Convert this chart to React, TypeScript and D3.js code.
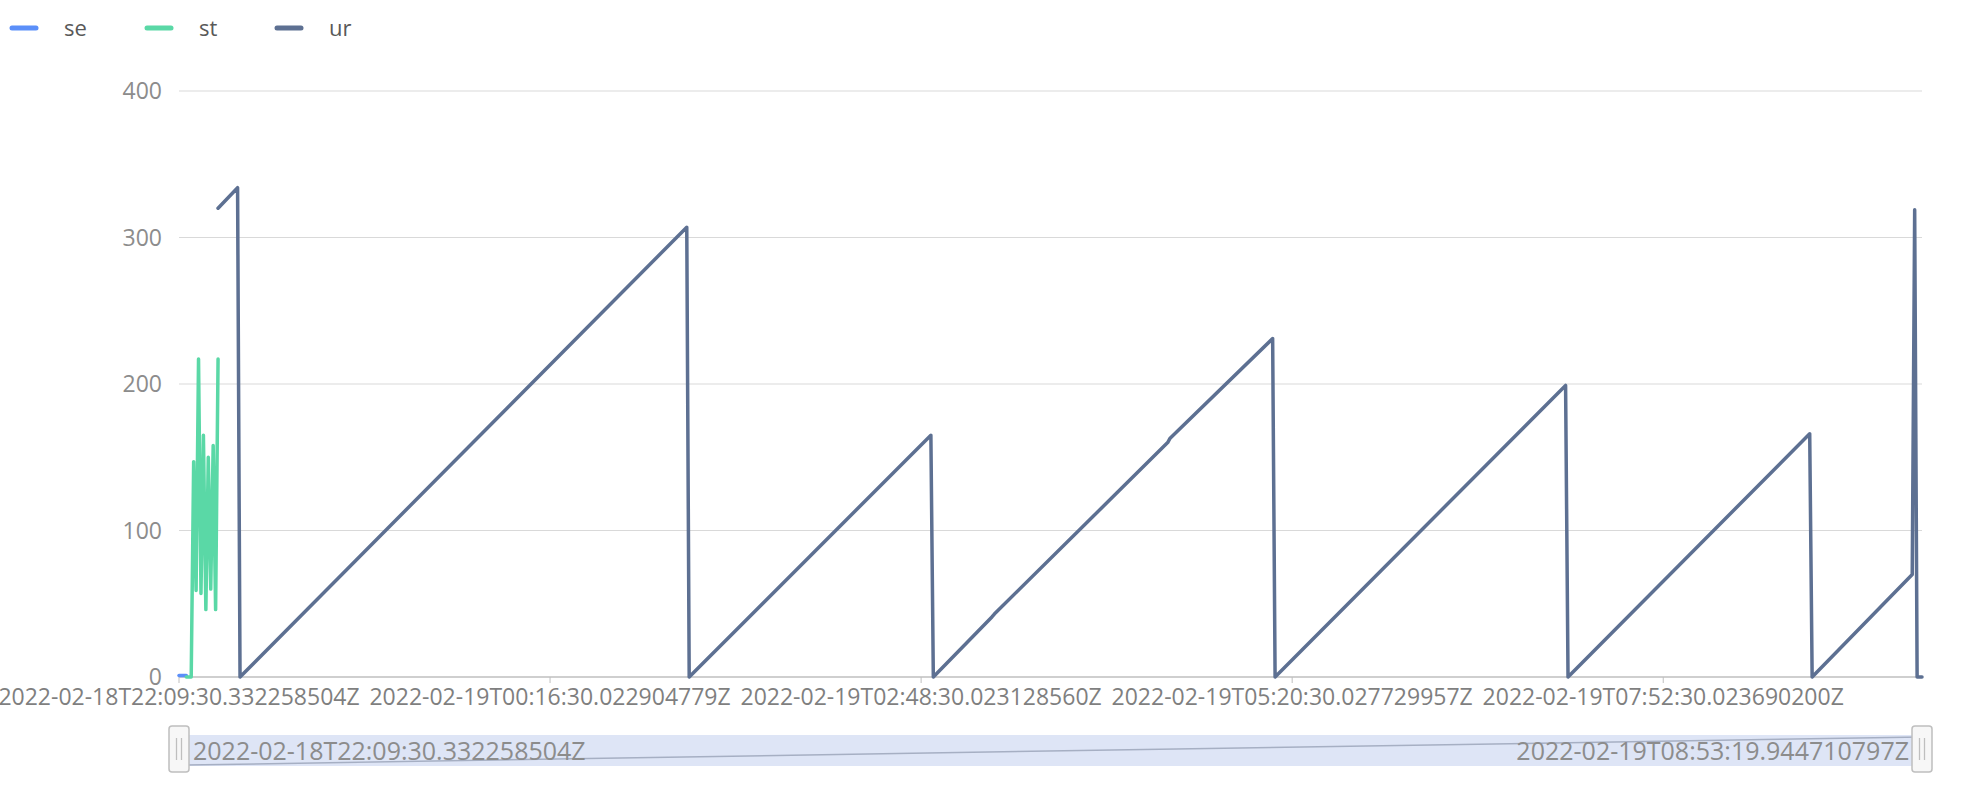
import React from "react";
import * as d3 from "d3";

// ---------- data ----------
const categoryCount = 715;
const tickIndices = [0, 152, 304, 456, 608];
const tickLabels = [
  "2022-02-18T22:09:30.332258504Z",
  "2022-02-19T00:16:30.022904779Z",
  "2022-02-19T02:48:30.023128560Z",
  "2022-02-19T05:20:30.027729957Z",
  "2022-02-19T07:52:30.023690200Z",
];
const sliderStartLabel = "2022-02-18T22:09:30.332258504Z";
const sliderEndLabel = "2022-02-19T08:53:19.944710797Z";
const yTicks = [0, 100, 200, 300, 400];

const seriesNames = ["se", "st", "ur"];
const seriesColors = ["#5B8FF9", "#5AD8A6", "#5D7092"];

const seIdx = [0, 1, 2, 3];
const seVal = [1, 1, 1, 1];

const stIdx = [3, 4, 5, 6, 7, 8, 9, 10, 11, 12, 13, 14, 15, 16];
const stVal = [0, 0, 0, 147, 59, 217, 57, 165, 46, 150, 60, 158, 46, 217];

const urIdx = [16, 24, 25, 208, 209, 308, 309, 333, 334, 405, 406, 448, 449, 568, 569, 668, 669, 710, 711, 712, 714];
const urVal = [320, 334, 0, 307, 0, 165, 0, 41, 43, 160, 163, 231, 0, 199, 0, 166, 0, 70, 319, 0, 0];

// slider trend (normalized shadow values, start/end)
const trendIdx = [3, 714];
const trendVal = [0, 1];

export default function App() {
  const W = 1980, H = 800;
  const left = 179, right = 1922, top = 91, bottom = 677;
  const x = d3.scaleLinear().domain([0, categoryCount - 1]).range([left, right]);
  const y = d3.scaleLinear().domain([0, 400]).range([bottom, top]);
  const font = "'Open Sans', 'Noto Sans', sans-serif";

  const line = d3
    .line<[number, number]>()
    .x((d) => x(d[0]))
    .y((d) => y(d[1]));

  const zip = (a: number[], b: number[]) => a.map((v, i) => [v, b[i]] as [number, number]);
  const series = [zip(seIdx, seVal), zip(stIdx, stVal), zip(urIdx, urVal)];

  // slider
  const sTop = 735, sBot = 766;
  const ys = d3.scaleLinear().domain([0, 1]).range([sBot - 1, sTop + 2]);
  const trendLine = d3
    .line<[number, number]>()
    .x((d) => x(d[0]))
    .y((d) => ys(d[1]));

  const legendX = [10, 145, 275];

  return (
    <svg
      width={W}
      height={H}
      style={{ position: "absolute", left: 0, top: 0, background: "#fff" }}
      fontFamily={font}
    >
      {/* legend */}
      {seriesNames.map((n, i) => (
        <g key={n}>
          <line
            x1={legendX[i] + 2}
            x2={legendX[i] + 26}
            y1={28}
            y2={28}
            stroke={seriesColors[i]}
            strokeWidth={5}
            strokeLinecap="round"
          />
          <text x={legendX[i] + 54} y={28} dy="0.35em" fontSize={22} fill="#595959">
            {n}
          </text>
        </g>
      ))}

      {/* grid + y labels */}
      {yTicks.map((t) => (
        <g key={t}>
          {t !== 0 && (
            <line x1={left} x2={right} y1={y(t)} y2={y(t)} stroke="#D9D9D9" strokeWidth={1} />
          )}
          <text x={162} y={y(t)} dy="0.35em" textAnchor="end" fontSize={23} fill="#8C8C8C">
            {t}
          </text>
        </g>
      ))}

      {/* x axis */}
      <line x1={left} x2={right} y1={bottom} y2={bottom} stroke="#BFBFBF" strokeWidth={1.5} />
      {tickIndices.map((ti, i) => (
        <g key={ti}>
          <line x1={x(ti)} x2={x(ti)} y1={bottom} y2={bottom + 6} stroke="#BFBFBF" strokeWidth={1} />
          <text x={x(ti)} y={705} textAnchor="middle" fontSize={23} fill="#7F7F7F">
            {tickLabels[i]}
          </text>
        </g>
      ))}

      {/* series */}
      {series.map((s, i) => (
        <path
          key={i}
          d={line(s) || ""}
          fill="none"
          stroke={seriesColors[i]}
          strokeWidth={3.5}
          strokeLinejoin="round"
          strokeLinecap="round"
        />
      ))}

      {/* slider */}
      <rect x={left} y={sTop} width={right - left} height={sBot - sTop} fill="#DEE5F6" />
      <path
        d={trendLine(zip(trendIdx, trendVal)) || ""}
        fill="none"
        stroke="#A6AFC3"
        strokeWidth={1.5}
      />
      <text x={193} y={sTop + (sBot - sTop) / 2 + 1} dy="0.35em" fontSize={25} fill="#8C8C8C">
        {sliderStartLabel}
      </text>
      <text
        x={1909}
        y={sTop + (sBot - sTop) / 2 + 1}
        dy="0.35em"
        textAnchor="end"
        fontSize={25}
        fill="#8C8C8C"
      >
        {sliderEndLabel}
      </text>
      {[left, right].map((hx, i) => (
        <g key={i}>
          <rect
            x={hx - 10}
            y={726}
            width={20}
            height={46}
            rx={3}
            fill="#F7F7F7"
            stroke="#BFBFBF"
            strokeWidth={1.5}
          />
          <line x1={hx - 2.5} x2={hx - 2.5} y1={738} y2={760} stroke="#BFBFBF" strokeWidth={1.3} />
          <line x1={hx + 2.5} x2={hx + 2.5} y1={738} y2={760} stroke="#BFBFBF" strokeWidth={1.3} />
        </g>
      ))}
    </svg>
  );
}
